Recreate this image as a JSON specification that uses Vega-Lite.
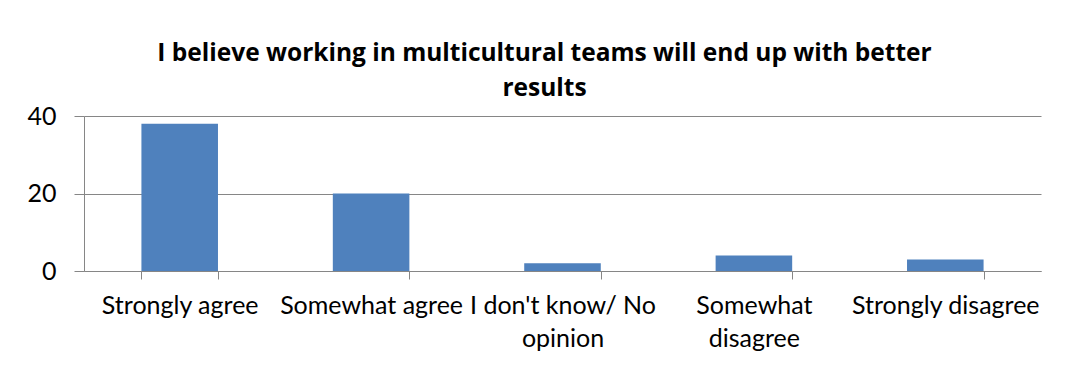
{
  "$schema": "https://vega.github.io/schema/vega-lite/v6.json",
  "width": 957,
  "height": 155,
  "autosize": "none",
  "padding": {"left": 84, "top": 116, "right": 28, "bottom": 103},
  "background": "white",
  "title": {
    "text": ["I believe  working in multicultural teams will end up with better", "results"],
    "font": "Open Sans",
    "fontSize": 24.5,
    "fontWeight": "bold",
    "color": "#000000",
    "lineHeight": 35,
    "anchor": "middle",
    "dx": -18,
    "offset": 3
  },
  "data": {
    "values": [
      {"response": "Strongly agree", "count": 38},
      {"response": "Somewhat agree", "count": 20},
      {"response": "I don't know/ No opinion", "count": 2},
      {"response": "Somewhat disagree", "count": 4},
      {"response": "Strongly disagree", "count": 3}
    ]
  },
  "mark": {"type": "bar", "color": "#4F81BD"},
  "encoding": {
    "x": {
      "field": "response",
      "type": "nominal",
      "sort": null,
      "scale": {"paddingInner": 0.6, "paddingOuter": 0.3},
      "axis": {
        "title": null,
        "labelAngle": 0,
        "labelFont": "Lato",
        "labelFontSize": 25,
        "labelColor": "#000000",
        "labelLineHeight": 33,
        "labelPadding": 14,
        "labelBaseline": "top",
        "labelLimit": 300,
        "tickBand": "extent",
        "tickSize": 8,
        "tickColor": "#868686",
        "domainColor": "#868686",
        "labelExpr": "datum.label == \"I don't know/ No opinion\" ? [\"I don't know/ No\", \"opinion\"] : datum.label == 'Somewhat disagree' ? ['Somewhat', 'disagree'] : datum.label"
      }
    },
    "y": {
      "field": "count",
      "type": "quantitative",
      "scale": {"domain": [0, 40]},
      "axis": {
        "title": null,
        "values": [0, 20, 40],
        "labelFont": "Lato",
        "labelFontSize": 25,
        "labelColor": "#000000",
        "labelPadding": 18,
        "tickSize": 10,
        "tickColor": "#868686",
        "domainColor": "#868686",
        "gridColor": "#868686",
        "grid": true
      }
    }
  },
  "config": {"view": {"stroke": null}}
}
